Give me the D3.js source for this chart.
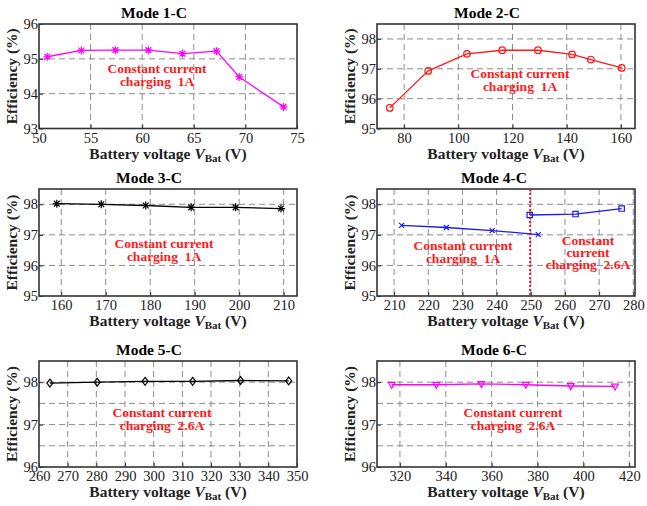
<!DOCTYPE html>
<html>
<head>
<meta charset="utf-8">
<script src="https://cdn.jsdelivr.net/npm/d3@7"></script>
<style>
  body { margin: 0; background: #fff; }
  text { font-family: "Liberation Serif", "Times New Roman", serif; }
</style>
</head>
<body>
<script>
// Data (battery voltage in V, efficiency in %)
const mode1Volt = [50.8, 54.1, 57.4, 60.6, 63.9, 67.2, 69.4, 73.7];
const mode1Eff = [95.06, 95.24, 95.25, 95.25, 95.15, 95.22, 94.48, 93.62];
const mode2Volt = [74.7, 88.9, 103.2, 116.2, 129.4, 142, 148.9, 160.3];
const mode2Eff = [95.69, 96.93, 97.5, 97.62, 97.62, 97.48, 97.31, 97.03];
const mode3Volt = [159, 169, 179, 189.2, 199.2, 209.4];
const mode3Eff = [98.02, 98.0, 97.96, 97.9, 97.9, 97.86];
const mode4Volt1A = [212.2, 225.3, 238.7, 252.2];
const mode4Eff1A = [97.31, 97.24, 97.14, 97.01];
const mode4Volt26A = [249.7, 263.1, 276.6];
const mode4Eff26A = [97.65, 97.68, 97.86];
const mode4Switch = 249.8;
const mode5Volt = [263.8, 280.3, 297, 313.6, 330.3, 347.1];
const mode5Eff = [97.98, 98.0, 98.02, 98.02, 98.04, 98.03];
const mode6Volt = [316.4, 335.9, 355.5, 374.9, 394.5, 413.8];
const mode6Eff = [97.94, 97.94, 97.96, 97.94, 97.91, 97.9];

// Tick labels
const xTicks1 = [50, 55, 60, 65, 70, 75];
const xTicks2 = [80, 100, 120, 140, 160];
const xTicks3 = [160, 170, 180, 190, 200, 210];
const xTicks4 = [210, 220, 230, 240, 250, 260, 270, 280];
const xTicks5 = [260, 270, 280, 290, 300, 310, 320, 330, 340, 350];
const xTicks6 = [320, 340, 360, 380, 400, 420];
const yTicks1 = [93, 94, 95, 96];
const yTicks2 = [95, 96, 97, 98];
const yTicks5 = [96, 97, 98];
const yGrid5 = [96.5, 97, 97.5, 98];

const width = 647, height = 506;
const red = '#ff1a1a';
const serif = '"Liberation Serif", "Times New Roman", serif';

const svg = d3.select('body')
  .append('svg')
  .attr('width', width)
  .attr('height', height);

// marker shapes, centred on 0,0
function markerPath(type, s) {
  const a = s * 0.72;
  switch (type) {
    case 'asterisk':
      return `M${-s},0H${s}M0,${-s}V${s}M${-a},${-a}L${a},${a}M${-a},${a}L${a},${-a}`;
    case 'times':
      return `M${-s},${-s}L${s},${s}M${-s},${s}L${s},${-s}`;
    case 'square':
      return `M${-s},${-s}H${s}V${s}H${-s}Z`;
    case 'diamond':
      return `M0,${-s * 1.3}L${s},0L0,${s * 1.3}L${-s},0Z`;
    case 'triangle':
      return `M${-s},${-s * 0.7}L${s},${-s * 0.7}L0,${s * 1.1}Z`;
    default:
      return d3.symbol(d3.symbolCircle, Math.PI * s * s)();
  }
}

const panels = [
  { title: 'Mode 1-C', titleX: 154, left: 39, top: 24, w: 258, h: 104.5,
    xDomain: [50, 75], yDomain: [93, 96], xTicks: xTicks1, yTicks: yTicks1, yGrid: yTicks1,
    series: [{ x: mode1Volt, y: mode1Eff, color: '#ff00ff', marker: 'asterisk', size: 4 }],
    notes: [{ x: 157, y: 73, t: 'Constant current' }, { x: 157, y: 86, t: 'charging  1A' }] },
  { title: 'Mode 2-C', titleX: 487, left: 377, top: 24, w: 258, h: 104.5,
    xDomain: [70, 165.2], yDomain: [95, 98.5], xTicks: xTicks2, yTicks: yTicks2, yGrid: yTicks2,
    series: [{ x: mode2Volt, y: mode2Eff, color: red, marker: 'circle', size: 3.3 }],
    notes: [{ x: 520, y: 78, t: 'Constant current' }, { x: 520, y: 91, t: 'charging  1A' }] },
  { title: 'Mode 3-C', titleX: 149, left: 39, top: 189, w: 258, h: 107,
    xDomain: [155, 213], yDomain: [95, 98.5], xTicks: xTicks3, yTicks: yTicks2, yGrid: yTicks2,
    series: [{ x: mode3Volt, y: mode3Eff, color: '#000', marker: 'asterisk', size: 4 }],
    notes: [{ x: 164, y: 248, t: 'Constant current' }, { x: 164, y: 261, t: 'charging  1A' }] },
  { title: 'Mode 4-C', titleX: 494, left: 377, top: 189, w: 258, h: 107,
    xDomain: [205, 280.5], yDomain: [95, 98.5], xTicks: xTicks4, yTicks: yTicks2, yGrid: yTicks2,
    series: [
      { x: mode4Volt1A, y: mode4Eff1A, color: '#1a1aff', marker: 'times', size: 2.5 },
      { x: mode4Volt26A, y: mode4Eff26A, color: '#1a1aff', marker: 'square', size: 2.7 }
    ],
    vline: mode4Switch,
    notes: [{ x: 463, y: 250, t: 'Constant current' }, { x: 463, y: 263, t: 'charging  1A' },
            { x: 588, y: 245, t: 'Constant' }, { x: 588, y: 257, t: 'current' },
            { x: 588, y: 269, t: 'charging  2.6A' }] },
  { title: 'Mode 5-C', titleX: 149, left: 39, top: 361, w: 258, h: 106,
    xDomain: [260, 350], yDomain: [96, 98.5], xTicks: xTicks5, yTicks: yTicks5, yGrid: yGrid5,
    series: [{ x: mode5Volt, y: mode5Eff, color: '#000', marker: 'diamond', size: 3 }],
    notes: [{ x: 162, y: 417, t: 'Constant current' }, { x: 162, y: 430, t: 'charging  2.6A' }] },
  { title: 'Mode 6-C', titleX: 494, left: 377, top: 361, w: 258, h: 106,
    xDomain: [310, 422.5], yDomain: [96, 98.5], xTicks: xTicks6, yTicks: yTicks5, yGrid: yGrid5,
    series: [{ x: mode6Volt, y: mode6Eff, color: '#ff00ff', marker: 'triangle', size: 3.3 }],
    notes: [{ x: 513, y: 417, t: 'Constant current' }, { x: 513, y: 430, t: 'charging  2.6A' }] }
];

panels.forEach(p => {
  const x = d3.scaleLinear().domain(p.xDomain).range([0, p.w]);
  const y = d3.scaleLinear().domain(p.yDomain).range([p.h, 0]);
  const g = svg.append('g').attr('transform', `translate(${p.left},${p.top})`);

  // dashed grid
  g.selectAll('.gx').data(p.xTicks.filter(v => x(v) > 1 && x(v) < p.w - 1)).enter()
    .append('line')
    .attr('x1', d => x(d)).attr('x2', d => x(d))
    .attr('y1', 0).attr('y2', p.h)
    .attr('stroke', '#8c8c8c').attr('stroke-dasharray', '6,4');
  g.selectAll('.gy').data(p.yGrid.filter(v => y(v) > 1 && y(v) < p.h - 1)).enter()
    .append('line')
    .attr('x1', 0).attr('x2', p.w)
    .attr('y1', d => y(d)).attr('y2', d => y(d))
    .attr('stroke', '#8c8c8c').attr('stroke-dasharray', '6,4');

  // axes with inward ticks
  const fmt = d3.format('d');
  const xAxis = g.append('g').attr('transform', `translate(0,${p.h})`)
    .call(d3.axisBottom(x).tickValues(p.xTicks).tickFormat(fmt).tickSize(-4).tickPadding(4));
  const yAxis = g.append('g')
    .call(d3.axisLeft(y).tickValues(p.yTicks).tickFormat(fmt).tickSize(-4).tickPadding(1));
  [xAxis, yAxis].forEach(ax => {
    ax.attr('font-family', serif).attr('font-size', 14.5);
    ax.select('.domain').remove();
    ax.selectAll('line').attr('stroke', '#333');
    ax.selectAll('text').attr('fill', '#222');
  });

  // frame
  g.append('rect')
    .attr('width', p.w).attr('height', p.h)
    .attr('fill', 'none').attr('stroke', '#333').attr('stroke-width', 1.6);

  // switching line in mode 4
  if (p.vline !== undefined) {
    g.append('line')
      .attr('x1', x(p.vline)).attr('x2', x(p.vline))
      .attr('y1', 0).attr('y2', p.h)
      .attr('stroke', red).attr('stroke-width', 2).attr('stroke-dasharray', '2,2');
  }

  // series
  p.series.forEach(s => {
    const pts = s.x.map((v, i) => [v, s.y[i]]);
    g.append('path')
      .datum(pts)
      .attr('fill', 'none')
      .attr('stroke', s.color)
      .attr('stroke-width', 1.3)
      .attr('d', d3.line().x(d => x(d[0])).y(d => y(d[1])));
    g.selectAll(null).data(pts).enter()
      .append('path')
      .attr('transform', d => `translate(${x(d[0])},${y(d[1])})`)
      .attr('d', markerPath(s.marker, s.size))
      .attr('fill', 'none')
      .attr('stroke', s.color)
      .attr('stroke-width', 1.2);
  });

  // title
  svg.append('text')
    .attr('x', p.titleX).attr('y', p.top - 6.5)
    .attr('text-anchor', 'middle')
    .attr('font-size', 15.5).attr('font-weight', 'bold')
    .text(p.title);

  // x label
  const xl = svg.append('text')
    .attr('x', p.left + p.w / 2).attr('y', p.top + p.h + 30)
    .attr('text-anchor', 'middle')
    .attr('font-size', 15.5).attr('font-weight', 'bold').attr('fill', '#222');
  xl.append('tspan').text('Battery voltage ');
  xl.append('tspan').attr('font-style', 'italic').text('V');
  xl.append('tspan').attr('font-size', 11).attr('dy', 3).text('Bat');
  xl.append('tspan').attr('dy', -3).text(' (V)');

  // y label
  svg.append('text')
    .attr('transform', `translate(${p.left - 22},${p.top + p.h / 2}) rotate(-90)`)
    .attr('text-anchor', 'middle')
    .attr('font-size', 15.5).attr('font-weight', 'bold').attr('fill', '#222')
    .text('Efficiency (%)');

  // notes
  p.notes.forEach(n => {
    svg.append('text')
      .attr('x', n.x).attr('y', n.y)
      .attr('text-anchor', 'middle')
      .attr('font-size', 13.5).attr('font-weight', 'bold')
      .attr('fill', red)
      .style('white-space', 'pre')
      .text(n.t);
  });
});
</script>
</body>
</html>
